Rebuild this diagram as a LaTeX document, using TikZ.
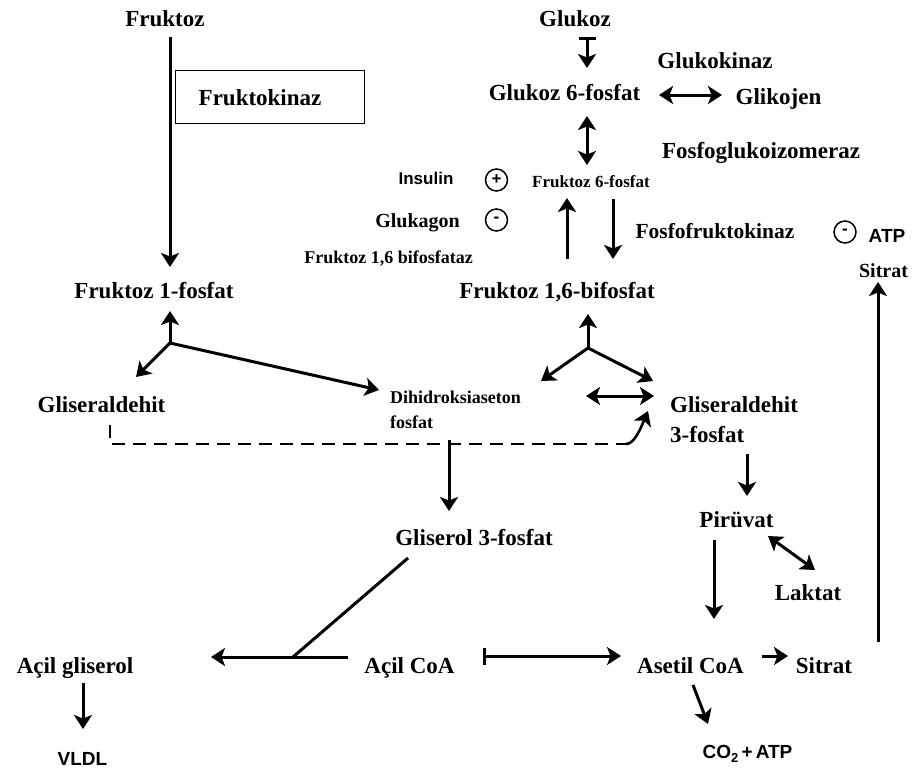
\documentclass[tikz,border=0pt]{standalone}
\usepackage{fontspec}
\setmainfont{Liberation Serif}
\setsansfont{Liberation Sans}
\usetikzlibrary{arrows.meta}
\begin{document}
\begin{tikzpicture}[x=1pt,y=-1pt,
  lbl/.style={inner sep=0pt, anchor=base, font=\fontsize{23}{26}\selectfont\bfseries},
  mid/.style={inner sep=0pt, anchor=base, font=\fontsize{20}{24}\selectfont\bfseries},
  sml/.style={inner sep=0pt, anchor=base, font=\fontsize{17}{20}\selectfont\bfseries},
  smlw/.style={inner sep=0pt, anchor=base west, font=\fontsize{18}{20}\selectfont\bfseries},
  lblw/.style={inner sep=0pt, anchor=base west, font=\fontsize{23}{26}\selectfont\bfseries},
  sans/.style={inner sep=0pt, anchor=base, font=\fontsize{18}{20}\selectfont\sffamily\bfseries},
  tip/.tip={Stealth[length=14pt,width=18pt,inset=3.5pt]},
  conn/.style={line width=3pt, -tip},
  both/.style={line width=3pt, tip-tip},
  barconn/.style={line width=3pt, {Bar[width=17pt,line width=3pt]}-tip},
  plain/.style={line width=3pt},
  sign/.style={circle, draw, line width=1.5pt, minimum size=22pt, inner sep=0pt, font=\fontsize{17}{17}\selectfont\sffamily\bfseries},
  enzbox/.style={draw, line width=1.4pt, anchor=north west, minimum height=53pt, inner xsep=23pt, inner ysep=0pt, text width=143pt, align=left, font=\fontsize{23}{26}\selectfont\bfseries}
]
\useasboundingbox (0,0) rectangle (915,771);
\fill[white] (0,0) rectangle (915,771);

% ---- nodes ----
\node[lbl] (fru) at (165,27) {Fruktoz};
\node[enzbox] (fk) at (175,70) {Fruktokinaz};
\node[lbl] (f1p) at (154,298) {Fruktoz  1-fosfat};
\node[lbl] (gald) at (101.5,412) {Gliseraldehit};
\node[smlw] (dhap) at (390,403) {Dihidroksiaseton};
\node[smlw] (dhapb) at (390,428) {fosfat};

\node[lbl] (glu) at (575,26) {Glukoz};
\node[lbl] (gk) at (715,68) {Glukokinaz};
\node[lbl] (g6p) at (564.5,100) {Glukoz  6-fosfat};
\node[lbl] (gly) at (778.5,104) {Glikojen};
\node[lbl] (pgi) at (761,158) {Fosfoglukoizomeraz};
\node[sans, font=\fontsize{17}{18}\selectfont\sffamily\bfseries] (ins) at (426,184) {Insulin};
\node[sign] (plus) at (496.5,180) {+};
\node[sml] (f6p) at (591,187) {Fruktoz  6-fosfat};
\node[mid] (gcg) at (417.5,227) {Glukagon};
\node[sign] (minusA) at (496.5,220) {-};
\node[mid, font=\fontsize{21.5}{24}\selectfont\bfseries] (pfk) at (715,238) {Fosfofruktokinaz};
\node[sign] (minusB) at (845,232) {-};
\node[sans, font=\fontsize{19}{20}\selectfont\sffamily\bfseries] (atp) at (887,242) {ATP};
\node[sml, font=\fontsize{18}{20}\selectfont\bfseries] (fbpase) at (388.5,263) {Fruktoz  1,6 bifosfataz};
\node[mid] (sitT) at (883.5,277) {Sitrat};
\node[lbl] (f16bp) at (557,298) {Fruktoz 1,6-bifosfat};
\node[lblw] (g3p) at (670,412) {Gliseraldehit};
\node[lblw] (g3pb) at (670,442) {3-fosfat};

\node[lbl] (gol3p) at (474,545) {Gliserol  3-fosfat};
\node[lbl] (pyr) at (736.5,527) {Pirüvat};
\node[lbl] (lak) at (808,600) {Laktat};
\node[lbl] (agl) at (75,673) {Açil gliserol};
\node[lbl] (acoa) at (409.5,673) {Açil CoA};
\node[lbl] (asc) at (690.5,673) {Asetil CoA};
\node[lbl] (sitB) at (824,673) {Sitrat};
\node[sans, font=\fontsize{19}{20}\selectfont\sffamily\bfseries] (vldl) at (82.5,765) {VLDL};
\node[sans, font=\fontsize{19}{20}\selectfont\sffamily\bfseries] (co2) at (747.5,758) {CO\raisebox{-4pt}{\fontsize{13}{13}\selectfont 2}\,+\,ATP};

% ---- connector end points ----
\coordinate (fruS) at (170,37);
\coordinate (f1pN) at (170,267);
\coordinate (j1) at (170,343);
\coordinate (j1u) at (170,311);
\coordinate (j1l) at (136,377);
\coordinate (j1r) at (379,390);
\coordinate (gluS) at (587,37);
\coordinate (g6pN) at (587,68);
\coordinate (g6pE) at (659,95);
\coordinate (glyW) at (722,95);
\coordinate (g6pS) at (587,116);
\coordinate (f6pN) at (587,165);
\coordinate (f6pSa) at (613,199);
\coordinate (f16N1) at (613,259);
\coordinate (f16N2) at (567,259);
\coordinate (f6pSb) at (567,198);
\coordinate (j2) at (588,348);
\coordinate (j2u) at (588,314);
\coordinate (j2l) at (541,381);
\coordinate (j2r) at (653,381);
\coordinate (dhapE) at (586,396);
\coordinate (g3pW) at (654,396);
\coordinate (galdS) at (110,425);
\coordinate (dc1) at (110,444);
\coordinate (dc2) at (626,444);
\coordinate (g3pSW) at (648,411);
\coordinate (dhapS) at (449,440);
\coordinate (gol3pN) at (449,511);
\coordinate (g3pS) at (747,454);
\coordinate (pyrN) at (747,496);
\coordinate (pyrS) at (714,540);
\coordinate (ascN) at (714,619);
\coordinate (pyrE) at (768,536);
\coordinate (lakN) at (815,570);
\coordinate (ascE) at (762,656);
\coordinate (sitBW) at (788,656);
\coordinate (sitBN) at (878,642);
\coordinate (sitTS) at (878,282);
\coordinate (gol3pS) at (408,558);
\coordinate (jj) at (293,657);
\coordinate (acoaW) at (348,657);
\coordinate (aglE) at (211,657);
\coordinate (aglS) at (83,683);
\coordinate (vldlN) at (83,729);
\coordinate (acoaE) at (483,656);
\coordinate (ascW) at (621,656);
\coordinate (ascS) at (693,685);
\coordinate (co2N) at (708,724);

% ---- connectors ----
\draw[conn] (fruS) -- (f1pN);
\draw[conn] (j1) -- (j1u);
\draw[conn] (j1) -- (j1l);
\draw[conn] (j1) -- (j1r);
\draw[barconn] (gluS) -- (g6pN);
\draw[both] (g6pE) -- (glyW);
\draw[both] (g6pS) -- (f6pN);
\draw[conn] (f6pSa) -- (f16N1);
\draw[conn] (f16N2) -- (f6pSb);
\draw[conn] (j2) -- (j2u);
\draw[conn] (j2) -- (j2l);
\draw[conn] (j2) -- (j2r);
\draw[both] (dhapE) -- (g3pW);
\draw[line width=2.6pt, dash pattern=on 13pt off 8pt] (galdS) -- (dc1) -- (dc2);
\draw[conn, line width=2.6pt] (dc2) .. controls (634,444) and (640,430) .. (g3pSW);
\draw[conn] (dhapS) -- (gol3pN);
\draw[conn] (g3pS) -- (pyrN);
\draw[conn] (pyrS) -- (ascN);
\draw[both] (pyrE) -- (lakN);
\draw[conn] (ascE) -- (sitBW);
\draw[conn] (sitBN) -- (sitTS);
\draw[plain] (gol3pS) -- (jj);
\draw[conn] (acoaW) -- (aglE);
\draw[conn] (aglS) -- (vldlN);
\draw[barconn] (acoaE) -- (ascW);
\draw[conn] (ascS) -- (co2N);
\end{tikzpicture}
\end{document}
